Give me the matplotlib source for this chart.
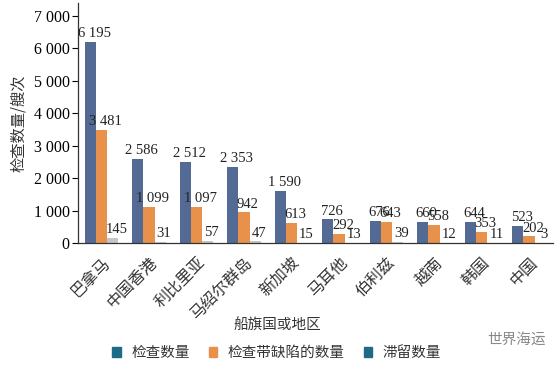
import matplotlib
matplotlib.use('Agg')
import matplotlib.pyplot as plt
import numpy as np
from matplotlib.ticker import FuncFormatter

plt.rcParams['font.family'] = ['Noto Sans CJK SC', 'DejaVu Sans']

categories = ['巴拿马', '中国香港', '利比里亚', '马绍尔群岛', '新加坡',
              '马耳他', '伯利兹', '越南', '韩国', '中国']
inspections = [6195, 2586, 2512, 2353, 1590, 726, 676, 660, 644, 523]
deficient = [3481, 1099, 1097, 942, 613, 292, 643, 558, 353, 202]
detained = [145, 31, 57, 47, 15, 13, 39, 12, 11, 3]
series_names = ['检查数量', '检查带缺陷的数量', '滞留数量']
yticks = [0, 1000, 2000, 3000, 4000, 5000, 6000, 7000]

serif = 'Liberation Serif'
bar_colors = ['#536b94', '#e8914a', '#c6c6c6']
legend_colors = ['#1f6a86', '#e8914a', '#1f6a86']


def fmt(v):
    return f'{int(v):,}'.replace(',', ' ')


fig = plt.figure(figsize=(5.6, 3.66), dpi=100)
ax = fig.add_axes([0.139, 0.336, 0.848, 0.656])

x = np.arange(len(categories))
w = 0.235
data = [inspections, deficient, detained]
for i, vals in enumerate(data):
    pos = x + (i - 1) * w
    ax.bar(pos, vals, width=w, color=bar_colors[i], zorder=2)
    for p, v in zip(pos, vals):
        ax.text(p + 0.08, v + 60, fmt(v), ha='center', va='bottom',
                fontsize=10.5, family=serif, color='#222222')

ax.set_xlim(-0.5, 9.5)
ax.set_ylim(0, 7400)
ax.set_yticks(yticks)
ax.yaxis.set_major_formatter(FuncFormatter(lambda v, p: fmt(v)))
for lab in ax.get_yticklabels():
    lab.set_family(serif)
    lab.set_fontsize(11.5)
ax.tick_params(axis='y', direction='out', length=4, width=0.8, pad=2)
ax.set_xticks(x)
ax.set_xticklabels(categories, rotation=45, ha='right', rotation_mode='anchor',
                   fontsize=11.5, color='#333333')
ax.tick_params(axis='x', length=0, pad=8)

for s in ['top', 'right']:
    ax.spines[s].set_visible(False)
for s in ['left', 'bottom']:
    ax.spines[s].set_linewidth(0.9)
    ax.spines[s].set_color('#333333')

ax.set_ylabel('检查数量/艘次', fontsize=11, color='#333333', labelpad=5)
fig.text(0.495, 0.11, '船旗国或地区', ha='center', va='center',
         fontsize=10.5, color='#333333')

handles = [plt.Rectangle((0, 0), 1, 1, color=c) for c in legend_colors]
fig.legend(handles, series_names, loc='center', bbox_to_anchor=(0.494, 0.035),
           ncol=3, frameon=False, fontsize=10.5, handlelength=0.6,
           handleheight=0.6, handletextpad=0.7, columnspacing=1.3,
           labelcolor='#333333')

fig.text(0.923, 0.072, '世界海运', ha='center', va='center',
         fontsize=10.5, color='#888888')

fig.savefig('out.png', dpi=100)
